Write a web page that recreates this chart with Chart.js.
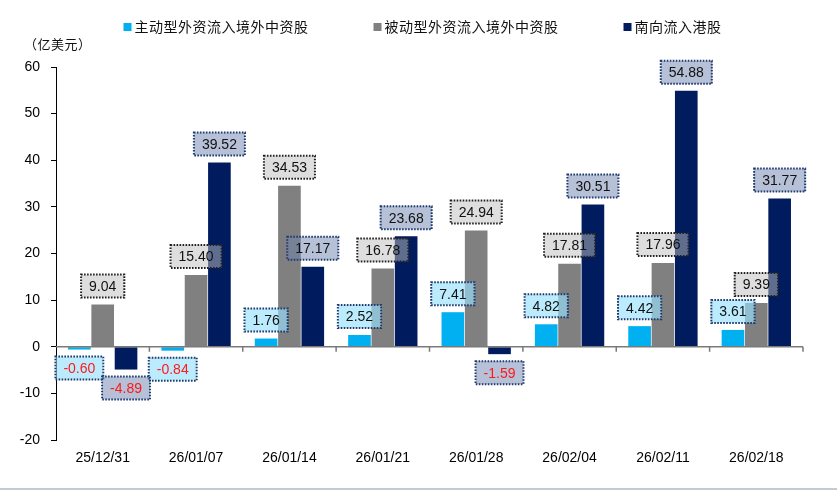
<!DOCTYPE html>
<html>
<head>
<meta charset="utf-8">
<script src="https://cdn.jsdelivr.net/npm/chart.js@4.4.1/dist/chart.umd.min.js"></script>
<style>
  html, body { margin: 0; padding: 0; background: #fff; }
  #wrap { width: 837px; height: 492px; }
</style>
</head>
<body>
<div id="wrap"><canvas id="myChart"></canvas></div>
<script>
// weekly flows, 亿美元
const dates = ['25/12/31', '26/01/07', '26/01/14', '26/01/21', '26/01/28', '26/02/04', '26/02/11', '26/02/18'];
const activeFlow = [-0.60, -0.84, 1.76, 2.52, 7.41, 4.82, 4.42, 3.61];
const passiveFlow = [9.04, 15.40, 34.53, 16.78, 24.94, 17.81, 17.96, 9.39];
const southbound = [-4.89, 39.52, 17.17, 23.68, -1.59, 30.51, 54.88, 31.77];
const seriesNames = ['主动型外资流入境外中资股', '被动型外资流入境外中资股', '南向流入港股'];
const unitLabel = '（亿美元）';

const barColors = ['#00B0F0', '#808080', '#001C5E'];
const labelFill = ['rgba(150,225,250,0.65)', 'rgba(190,190,190,0.5)', 'rgba(110,130,175,0.5)'];
const labelBorder = ['#1F3A6E', '#222222', '#1F3A6E'];

const cjk = '"Noto Sans CJK SC", sans-serif';
const latin = '"Liberation Sans", Arial, sans-serif';

// value boxes above / below each bar
const boxLabels = {
    id: 'boxLabels',
    afterDatasetsDraw(chart) {
        const ctx = chart.ctx;
        const x = chart.scales.x, y = chart.scales.y;
        const zero = y.getPixelForValue(0);

        // zero line with category tick marks
        ctx.save();
        ctx.strokeStyle = '#7a7a7a';
        ctx.lineWidth = 1.5;
        ctx.beginPath();
        ctx.moveTo(chart.chartArea.left, zero);
        ctx.lineTo(chart.chartArea.right, zero);
        const step = (chart.chartArea.right - chart.chartArea.left) / dates.length;
        for (let i = 1; i <= dates.length; i++) {
            const px = chart.chartArea.left + i * step;
            ctx.moveTo(px, zero);
            ctx.lineTo(px, zero + 5);
        }
        ctx.stroke();
        ctx.restore();

        ctx.save();
        ctx.font = '14px ' + latin;
        ctx.textAlign = 'center';
        ctx.textBaseline = 'middle';
        chart.data.datasets.forEach((ds, di) => {
            const meta = chart.getDatasetMeta(di);
            meta.data.forEach((bar, i) => {
                const v = ds.data[i];
                const txt = v.toFixed(2);
                const w = ctx.measureText(txt).width + 16;
                const h = 23;
                const bx = bar.x - w / 2;
                const by = v >= 0 ? bar.y - 7 - h : bar.y + 7;
                ctx.fillStyle = labelFill[di];
                ctx.fillRect(bx, by, w, h);
                ctx.setLineDash([1.6, 1.4]);
                ctx.lineWidth = 2;
                ctx.strokeStyle = labelBorder[di];
                ctx.strokeRect(bx, by, w, h);
                ctx.setLineDash([]);
                ctx.fillStyle = v < 0 ? '#FF1A1A' : '#111111';
                ctx.fillText(txt, bar.x, by + h / 2 + 1);
            });
        });
        ctx.restore();
    },
    afterDraw(chart) {
        const ctx = chart.ctx;
        ctx.save();
        // legend
        ctx.font = '14px ' + cjk;
        ctx.letterSpacing = '0.5px';
        ctx.textBaseline = 'middle';
        const widths = seriesNames.map(n => ctx.measureText(n).width);
        const gap = 64;
        const total = widths.reduce((a, b) => a + b, 0) + 3 * 12 + 2 * gap;
        let lx = 423 - total / 2;
        seriesNames.forEach((n, i) => {
            ctx.fillStyle = barColors[i];
            ctx.fillRect(lx, 23, 8, 8);
            ctx.fillStyle = '#111';
            ctx.fillText(n, lx + 11, 27);
            lx += 12 + widths[i] + gap;
        });
        // unit
        ctx.font = '13px ' + cjk;
        ctx.fillText(unitLabel, 24, 44);
        // bottom rule
        ctx.letterSpacing = '0px';
        ctx.strokeStyle = '#c3cad6';
        ctx.lineWidth = 2;
        ctx.beginPath();
        ctx.moveTo(0, 489);
        ctx.lineTo(837, 489);
        ctx.stroke();
        ctx.restore();
    }
};

const ctx = document.getElementById('myChart').getContext('2d');
new Chart(ctx, {
    type: 'bar',
    data: {
        labels: dates,
        datasets: [
            { label: seriesNames[0], data: activeFlow, backgroundColor: barColors[0] },
            { label: seriesNames[1], data: passiveFlow, backgroundColor: barColors[1] },
            { label: seriesNames[2], data: southbound, backgroundColor: barColors[2] }
        ]
    },
    options: {
        responsive: true,
        maintainAspectRatio: false,
        animation: false,
        categoryPercentage: 0.75,
        barPercentage: 0.97,
        layout: { padding: { top: 67, right: 34, bottom: 0, left: 0 } },
        plugins: {
            legend: { display: false },
            tooltip: { enabled: false }
        },
        scales: {
            x: {
                grid: { display: false, drawTicks: false },
                border: { display: false },
                ticks: { color: '#000', font: { family: latin, size: 14 }, padding: 10, maxRotation: 0 },
                afterFit: s => { s.height = 52; }
            },
            y: {
                min: -20,
                max: 60,
                ticks: { stepSize: 10, color: '#000', font: { family: latin, size: 14 }, padding: 11 },
                grid: { drawOnChartArea: false, tickLength: 5, color: '#000' },
                border: { color: '#000', width: 1 },
                afterFit: s => { s.width = 56; }
            }
        }
    },
    plugins: [boxLabels]
});
</script>
</body>
</html>
